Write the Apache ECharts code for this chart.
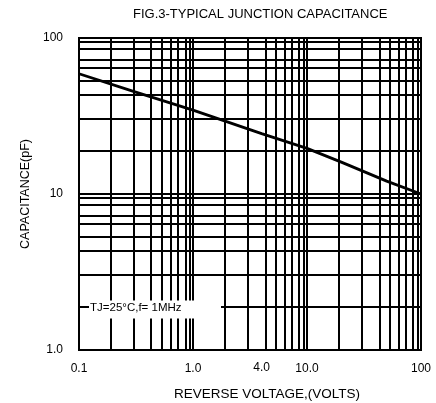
<!DOCTYPE html>
<html>
<head>
<meta charset="utf-8">
<script src="https://cdn.jsdelivr.net/npm/echarts@6/dist/echarts.min.js"></script>
<style>
  html, body { margin: 0; padding: 0; background: #fff; }
  #chart { width: 436px; height: 403px; }
</style>
</head>
<body>
<div id="chart"></div>
<script>
// Typical junction capacitance (pF) vs reverse voltage (V)
const voltage = [0.1, 0.3, 1, 4, 10, 20, 50, 100];
const capacitance = [59, 45.5, 34.5, 24.4, 19.6, 16.0, 12.1, 10];

// subdivisions of each decade as drawn on the original log paper
const gridSteps = [1, 1.9, 3.05, 4.32, 5.3, 6.4, 7.3, 8.55, 9.45];
const xDecades = [0.1, 1, 10];
const yDecades = [1, 10];

const xTickValues = [0.1, 1, 10, 100];
const xTickLabels = ['0.1', '1.0', '10.0', '100'];
const xExtraTick = 4;
const xExtraLabel = '4.0';
const yTickValues = [1, 10, 100];
const yTickLabels = ['1.0', '10', '100'];

const noteText = 'TJ=25°C,f= 1MHz';
const noteAt = [0.1, 1.9];

const FONT = 'Liberation Sans';

function gridValues(decades) {
  const out = [];
  decades.forEach(d => gridSteps.forEach(s => out.push(d * s)));
  out.push(decades[decades.length - 1] * 10);
  return out;
}

function labelFor(values, labels) {
  return v => {
    const i = values.findIndex(t => Math.abs(t - v) < t * 1e-6);
    return i >= 0 ? labels[i] : '';
  };
}

const lineStyleGrid = { color: '#000', width: 2, type: 'solid' };

const chart = echarts.init(document.getElementById('chart'), null, { renderer: 'canvas' });

chart.setOption({
  animation: false,
  textStyle: { fontFamily: FONT, color: '#000' },
  title: {
    text: 'FIG.3-TYPICAL JUNCTION CAPACITANCE',
    left: 133,
    top: 8,
    padding: 0,
    textStyle: { fontFamily: FONT, fontSize: 13, fontWeight: 'normal', color: '#000' }
  },
  grid: {
    left: 79, right: 15, top: 38, bottom: 53,
    show: true, borderColor: '#000', borderWidth: 2,
    containLabel: false, outerBoundsMode: 'none'
  },
  xAxis: {
    type: 'log',
    logBase: 10,
    min: 0.1,
    max: 100,
    name: 'REVERSE VOLTAGE,(VOLTS)',
    nameLocation: 'middle',
    nameGap: 37,
    nameTextStyle: { fontFamily: FONT, fontSize: 13.5, color: '#000', padding: [0, 0, 0, 34] },
    axisLine: { show: true, lineStyle: { color: '#000', width: 2 } },
    axisTick: { show: false },
    splitLine: { show: false },
    minorSplitLine: { show: false },
    axisLabel: {
      margin: 13,
      fontSize: 12,
      color: '#000',
      fontFamily: FONT,
      formatter: labelFor(xTickValues, xTickLabels)
    }
  },
  yAxis: {
    type: 'log',
    logBase: 10,
    min: 1,
    max: 100,
    name: 'CAPACITANCE(pF)',
    nameLocation: 'middle',
    nameRotate: 90,
    nameGap: 46,
    nameTextStyle: { fontFamily: FONT, fontSize: 12.5, color: '#000' },
    axisLine: { show: true, lineStyle: { color: '#000', width: 2 } },
    axisTick: { show: false },
    splitLine: { show: false },
    minorSplitLine: { show: false },
    axisLabel: {
      margin: 16,
      fontSize: 12,
      color: '#000',
      fontFamily: FONT,
      formatter: labelFor(yTickValues, yTickLabels)
    }
  },
  series: [
    {
      // log-paper grid
      name: 'grid',
      type: 'line',
      data: [],
      silent: true,
      z: 1,
      markLine: {
        z: 1,
        silent: true,
        symbol: ['none', 'none'],
        animation: false,
        lineStyle: lineStyleGrid,
        label: { show: false },
        emphasis: { disabled: true },
        data: gridValues(xDecades).map(v => ({ xAxis: v }))
          .concat(gridValues(yDecades).map(v => ({ yAxis: v })))
          .concat([{
            xAxis: xExtraTick,
            lineStyle: { color: 'rgba(0,0,0,0)', width: 0.1 },
            label: {
              show: true,
              position: 'start',
              distance: 12,
              formatter: xExtraLabel,
              fontFamily: FONT,
              fontSize: 12,
              color: '#000'
            }
          }])
      }
    },
    {
      name: 'Capacitance',
      type: 'line',
      z: 10,
      data: voltage.map((v, i) => [v, capacitance[i]]),
      showSymbol: false,
      symbol: 'none',
      lineStyle: { color: '#000', width: 2.8 },
      silent: true,
      markPoint: {
        z: 6,
        silent: true,
        symbol: 'rect',
        symbolSize: [132, 18],
        symbolOffset: [76, 3],
        itemStyle: { color: '#fff' },
        label: {
          show: true,
          position: 'insideLeft',
          distance: 1,
          offset: [0, -2],
          formatter: noteText,
          fontFamily: FONT,
          fontSize: 11.5,
          color: '#000'
        },
        data: [{ coord: noteAt }]
      }
    }
  ]
});
</script>
</body>
</html>
